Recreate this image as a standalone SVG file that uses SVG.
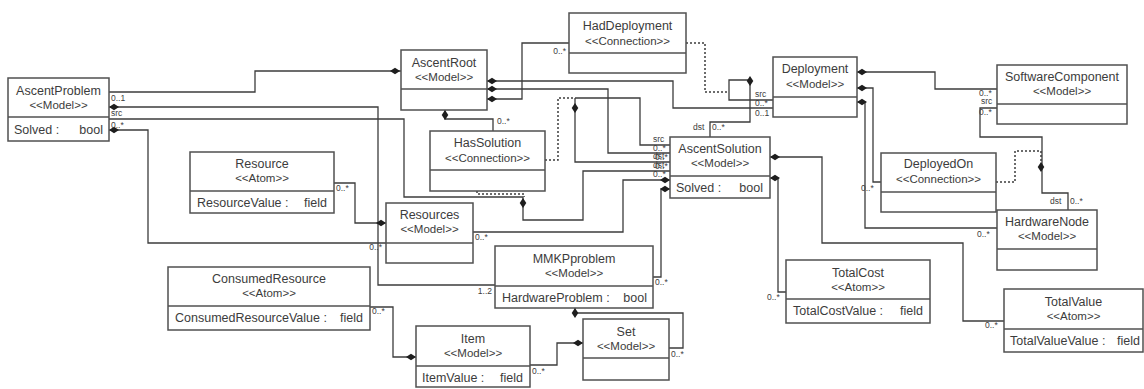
<svg xmlns="http://www.w3.org/2000/svg" xmlns:xlink="http://www.w3.org/1999/xlink" width="1144" height="389" viewBox="0 0 1144 389">
  <style>
    .box { fill: #fff; stroke: #505050; stroke-width: 1.5; }
    .sep { stroke: #505050; stroke-width: 1.5; }
    .t { font-family: "Liberation Sans", Arial, sans-serif; font-size: 12.5px; fill: #3c3c3c; text-anchor: middle; }
    .st { font-size: 11.5px; }
    .nm { text-anchor: start; }
    .ty { text-anchor: end; }
    .ln { fill: none; stroke: #3c3c3c; stroke-width: 1.3; }
    .dot { stroke-dasharray: 2 2; stroke-width: 1.5; }
    .lb { font-family: "Liberation Sans", Arial, sans-serif; font-size: 8.5px; fill: #3c3c3c; }
    .le { text-anchor: end; }
    .dm { fill: #1e1e1e; }
  </style>
  <defs>
    <!-- filled composition diamond, centred on its own origin -->
    <path id="dm" d="M-5,0 L0,-3.3 L5,0 L0,3.3 Z"/>
  </defs>
  <rect width="1144" height="389" fill="#fff"/>

  <!-- connectors: solid associations/containments, dotted association-class links -->
  <g id="connectors">
    <path class="ln" d="M401,71 H255 V92 H109"/>
    <path class="ln" d="M109,107 H378 V285 H495"/>
    <path class="ln" d="M109,119 H404 V197 H523"/>
    <path class="ln" d="M109,130 H148 V243 H386"/>
    <path class="ln" d="M523,197 V220 H583 V171 H670"/>
    <path class="ln dot" d="M477,191 V194 H524 V197"/>
    <path class="ln dot" d="M545,160 H558 V98 H575"/>
    <path class="ln" d="M575,98 H640 V145 H670"/>
    <path class="ln" d="M575,98 V162 H670"/>
    <path class="ln" d="M487,89 H608 V153 H670"/>
    <path class="ln" d="M487,81 H673 V108 H773"/>
    <path class="ln" d="M487,99 H522 V43 H569"/>
    <path class="ln" d="M445,110 V119 H493 V131"/>
    <path class="ln" d="M773,100 H729 V80 H750 V122 H710 V137"/>
    <path class="ln dot" d="M686,43 H705 V92 H729"/>
    <path class="ln" d="M857,72 H935 V89 H997"/>
    <path class="ln" d="M857,88 H873 V182 H881"/>
    <path class="ln" d="M857,102 H865 V228 H997"/>
    <path class="ln" d="M997,108 H980 V137 H1042 V193 H1068 V210"/>
    <path class="ln dot" d="M996,182 H1015 V151 H1041 V162"/>
    <path class="ln" d="M770,157 H822 V243 H963 V321 H1004"/>
    <path class="ln" d="M770,178 H778 V292 H786"/>
    <path class="ln" d="M670,180 H623 V232 H473"/>
    <path class="ln" d="M670,189 H661 V277 H653"/>
    <path class="ln" d="M575,308 V313 H683 V348 H669"/>
    <path class="ln" d="M583,343 H557 V365 H530"/>
    <path class="ln" d="M416,357 H393 V307 H370"/>
    <path class="ln" d="M386,223 H355 V183 H334"/>

    <!-- composition diamonds -->
    <use xlink:href="#dm" class="dm" x="395" y="71"/>
    <use xlink:href="#dm" class="dm" x="114" y="107"/>
    <use xlink:href="#dm" class="dm" x="114" y="130"/>
    <use xlink:href="#dm" class="dm" transform="translate(523,203) rotate(90)"/>
    <use xlink:href="#dm" class="dm" transform="translate(575,108) rotate(90)"/>
    <use xlink:href="#dm" class="dm" x="492" y="89"/>
    <use xlink:href="#dm" class="dm" x="492" y="81"/>
    <use xlink:href="#dm" class="dm" x="492" y="99"/>
    <use xlink:href="#dm" class="dm" transform="translate(445,115) rotate(90)"/>
    <use xlink:href="#dm" class="dm" transform="translate(750,81) rotate(90)"/>
    <use xlink:href="#dm" class="dm" x="862" y="72"/>
    <use xlink:href="#dm" class="dm" x="862" y="88"/>
    <use xlink:href="#dm" class="dm" x="862" y="102"/>
    <use xlink:href="#dm" class="dm" transform="translate(1041,167) rotate(90)"/>
    <use xlink:href="#dm" class="dm" x="775" y="157"/>
    <use xlink:href="#dm" class="dm" x="775" y="178"/>
    <use xlink:href="#dm" class="dm" x="665" y="180"/>
    <use xlink:href="#dm" class="dm" x="665" y="189"/>
    <use xlink:href="#dm" class="dm" transform="translate(575,313) rotate(90)"/>
    <use xlink:href="#dm" class="dm" x="578" y="343"/>
    <use xlink:href="#dm" class="dm" x="411" y="357"/>
    <use xlink:href="#dm" class="dm" x="381" y="223"/>

    <!-- role names and multiplicities -->
    <text class="lb" x="111" y="101">0..1</text>
    <text class="lb" x="111" y="116">src</text>
    <text class="lb" x="111" y="128">0..*</text>
    <text class="lb le" x="492" y="294">1..2</text>
    <text class="lb le" x="382" y="250">0..*</text>
    <text class="lb" x="336" y="191">0..*</text>
    <text class="lb" x="475" y="240">0..*</text>
    <text class="lb" x="497" y="124">0..*</text>
    <text class="lb le" x="566" y="54">0..*</text>
    <text class="lb" x="653" y="142">src</text>
    <text class="lb" x="653" y="151">0..*</text>
    <text class="lb" x="653" y="159">dst</text>
    <text class="lb" x="655" y="160">0..*</text>
    <text class="lb" x="653" y="168">dst</text>
    <text class="lb" x="655" y="169">0..*</text>
    <text class="lb" x="653" y="177">0..*</text>
    <text class="lb" x="755" y="97">src</text>
    <text class="lb" x="755" y="106">0..*</text>
    <text class="lb" x="755" y="116">0..1</text>
    <text class="lb" x="693" y="130">dst</text>
    <text class="lb" x="712" y="130">0..*</text>
    <text class="lb" x="979" y="96">0..*</text>
    <text class="lb" x="981" y="104">src</text>
    <text class="lb" x="979" y="115">0..*</text>
    <text class="lb" x="861" y="191">0..*</text>
    <text class="lb" x="977" y="237">0..*</text>
    <text class="lb" x="1050" y="204">dst</text>
    <text class="lb" x="1070" y="204">0..*</text>
    <text class="lb" x="985" y="328">0..*</text>
    <text class="lb" x="767" y="300">0..*</text>
    <text class="lb" x="655" y="285">0..*</text>
    <text class="lb" x="671" y="357">0..*</text>
    <text class="lb" x="532" y="374">0..*</text>
    <text class="lb" x="372" y="314">0..*</text>
  </g>

  <g id="ascent-problem">
    <rect class="box" x="8" y="78" width="101" height="63"/>
    <line class="sep" x1="8" y1="117" x2="109" y2="117"/>
    <text class="t" x="58.5" y="95">AscentProblem</text>
    <text class="t st" x="58.5" y="109">&lt;&lt;Model&gt;&gt;</text>
    <text class="t nm" x="14" y="134">Solved :</text>
    <text class="t ty" x="103" y="134">bool</text>
  </g>

  <g id="ascent-root">
    <rect class="box" x="401" y="50" width="86" height="60"/>
    <line class="sep" x1="401" y1="89" x2="487" y2="89"/>
    <text class="t" x="444" y="67">AscentRoot</text>
    <text class="t st" x="444" y="81">&lt;&lt;Model&gt;&gt;</text>
  </g>

  <g id="had-deployment">
    <rect class="box" x="569" y="13" width="117" height="60"/>
    <line class="sep" x1="569" y1="53" x2="686" y2="53"/>
    <text class="t" x="627.5" y="30">HadDeployment</text>
    <text class="t st" x="627.5" y="45">&lt;&lt;Connection&gt;&gt;</text>
  </g>

  <g id="has-solution">
    <rect class="box" x="430" y="131" width="115" height="60"/>
    <line class="sep" x1="430" y1="170" x2="545" y2="170"/>
    <text class="t" x="487.5" y="147">HasSolution</text>
    <text class="t st" x="487.5" y="162">&lt;&lt;Connection&gt;&gt;</text>
  </g>

  <g id="deployment">
    <rect class="box" x="773" y="57" width="84" height="60"/>
    <line class="sep" x1="773" y1="97" x2="857" y2="97"/>
    <text class="t" x="815" y="73">Deployment</text>
    <text class="t st" x="815" y="88">&lt;&lt;Model&gt;&gt;</text>
  </g>

  <g id="software-component">
    <rect class="box" x="997" y="65" width="130" height="59"/>
    <line class="sep" x1="997" y1="104" x2="1127" y2="104"/>
    <text class="t" x="1062" y="81">SoftwareComponent</text>
    <text class="t st" x="1062" y="95">&lt;&lt;Model&gt;&gt;</text>
  </g>

  <g id="ascent-solution">
    <rect class="box" x="670" y="137" width="100" height="61"/>
    <line class="sep" x1="670" y1="176" x2="770" y2="176"/>
    <text class="t" x="720" y="153">AscentSolution</text>
    <text class="t st" x="720" y="167">&lt;&lt;Model&gt;&gt;</text>
    <text class="t nm" x="676" y="192">Solved :</text>
    <text class="t ty" x="763" y="192">bool</text>
  </g>

  <g id="deployed-on">
    <rect class="box" x="881" y="153" width="115" height="59"/>
    <line class="sep" x1="881" y1="192" x2="996" y2="192"/>
    <text class="t" x="938.5" y="168">DeployedOn</text>
    <text class="t st" x="938.5" y="183">&lt;&lt;Connection&gt;&gt;</text>
  </g>

  <g id="hardware-node">
    <rect class="box" x="997" y="210" width="100" height="60"/>
    <line class="sep" x1="997" y1="249" x2="1097" y2="249"/>
    <text class="t" x="1047" y="226">HardwareNode</text>
    <text class="t st" x="1047" y="240">&lt;&lt;Model&gt;&gt;</text>
  </g>

  <g id="resource">
    <rect class="box" x="190" y="152" width="144" height="61"/>
    <line class="sep" x1="190" y1="191" x2="334" y2="191"/>
    <text class="t" x="262" y="168">Resource</text>
    <text class="t st" x="262" y="182">&lt;&lt;Atom&gt;&gt;</text>
    <text class="t nm" x="197" y="207">ResourceValue :</text>
    <text class="t ty" x="327" y="207">field</text>
  </g>

  <g id="resources">
    <rect class="box" x="386" y="203" width="87" height="60"/>
    <line class="sep" x1="386" y1="243" x2="473" y2="243"/>
    <text class="t" x="429.5" y="219">Resources</text>
    <text class="t st" x="429.5" y="233">&lt;&lt;Model&gt;&gt;</text>
  </g>

  <g id="consumed-resource">
    <rect class="box" x="168" y="267" width="202" height="63"/>
    <line class="sep" x1="168" y1="306" x2="370" y2="306"/>
    <text class="t" x="269" y="283">ConsumedResource</text>
    <text class="t st" x="269" y="297">&lt;&lt;Atom&gt;&gt;</text>
    <text class="t nm" x="175" y="322">ConsumedResourceValue :</text>
    <text class="t ty" x="363" y="322">field</text>
  </g>

  <g id="mmkp-problem">
    <rect class="box" x="495" y="246" width="158" height="62"/>
    <line class="sep" x1="495" y1="286" x2="653" y2="286"/>
    <text class="t" x="574" y="263">MMKPproblem</text>
    <text class="t st" x="574" y="277">&lt;&lt;Model&gt;&gt;</text>
    <text class="t nm" x="502" y="302">HardwareProblem :</text>
    <text class="t ty" x="647" y="302">bool</text>
  </g>

  <g id="item">
    <rect class="box" x="416" y="326" width="114" height="61"/>
    <line class="sep" x1="416" y1="366" x2="530" y2="366"/>
    <text class="t" x="473" y="343">Item</text>
    <text class="t st" x="473" y="357">&lt;&lt;Model&gt;&gt;</text>
    <text class="t nm" x="422" y="382">ItemValue :</text>
    <text class="t ty" x="523" y="382">field</text>
  </g>

  <g id="set">
    <rect class="box" x="583" y="319" width="86" height="61"/>
    <line class="sep" x1="583" y1="358" x2="669" y2="358"/>
    <text class="t" x="626" y="336">Set</text>
    <text class="t st" x="626" y="350">&lt;&lt;Model&gt;&gt;</text>
  </g>

  <g id="total-cost">
    <rect class="box" x="786" y="260" width="144" height="63"/>
    <line class="sep" x1="786" y1="299" x2="930" y2="299"/>
    <text class="t" x="858" y="277">TotalCost</text>
    <text class="t st" x="858" y="291">&lt;&lt;Atom&gt;&gt;</text>
    <text class="t nm" x="793" y="315">TotalCostValue :</text>
    <text class="t ty" x="923" y="315">field</text>
  </g>

  <g id="total-value">
    <rect class="box" x="1004" y="289" width="139" height="63"/>
    <line class="sep" x1="1004" y1="329" x2="1143" y2="329"/>
    <text class="t" x="1073.5" y="306">TotalValue</text>
    <text class="t st" x="1073.5" y="320">&lt;&lt;Atom&gt;&gt;</text>
    <text class="t nm" x="1010" y="345">TotalValueValue :</text>
    <text class="t ty" x="1140" y="345">field</text>
  </g>
</svg>
